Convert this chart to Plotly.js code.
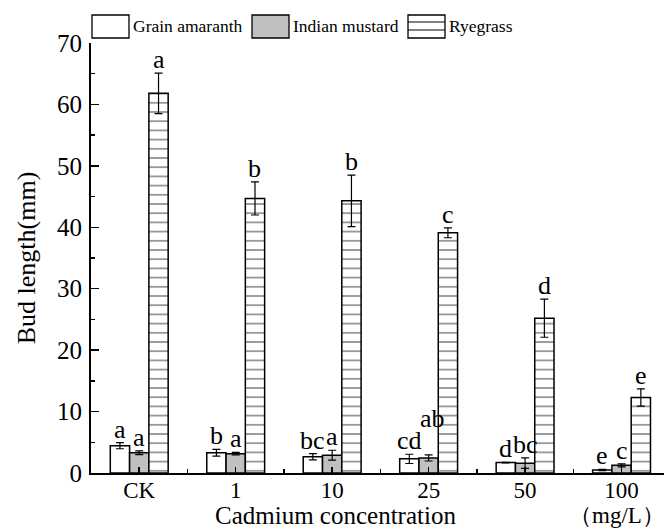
<!DOCTYPE html>
<html>
<head>
<meta charset="utf-8">
<script src="https://cdn.plot.ly/plotly-3.0.1.min.js"></script>
<style>html,body{margin:0;padding:0;background:#fff;}#chart{width:664px;height:528px;}</style>
</head>
<body>
<div id="chart"></div>
<script>
const categories = ["CK", "1", "10", "25", "50", "100"];
const seriesNames = ["Grain amaranth", "Indian mustard", "Ryegrass"];
const grainValues = [4.45, 3.3, 2.65, 2.3, 1.7, 0.5];
const grainErrors = [0.5, 0.55, 0.5, 0.75, 0.05, 0.1];
const grainLetters = ["a", "b", "bc", "cd", "d", "e"];
const mustardValues = [3.3, 3.15, 2.9, 2.45, 1.6, 1.25];
const mustardErrors = [0.3, 0.2, 0.8, 0.5, 0.85, 0.25];
const mustardLetters = ["a", "a", "a", "ab", "bc", "c"];
const ryeValues = [61.8, 44.7, 44.3, 39.1, 25.2, 12.3];
const ryeErrors = [3.3, 2.7, 4.2, 0.8, 3.1, 1.4];
const ryeLetters = ["a", "b", "b", "c", "d", "e"];

const FONT = "Liberation Serif, Times New Roman, serif";
const xIdx = categories.map((c, i) => i);

const values = [grainValues, mustardValues, ryeValues];
const errors = [grainErrors, mustardErrors, ryeErrors];
const letters = [grainLetters, mustardLetters, ryeLetters];
const colors = ["#ffffff", "#c0c0c0", "#ffffff"];
const offsets = [-0.2, 0, 0.2];

const traces = values.map((v, s) => ({
  type: "bar",
  name: seriesNames[s],
  x: xIdx,
  y: v,
  error_y: {type: "data", array: errors[s], visible: true, color: "#000", thickness: 1.2, width: 4},
  marker: Object.assign({
    color: colors[s],
    line: {color: "#000", width: 1.5}
  }, s === 2 ? {pattern: {shape: "-", size: 9.2, solidity: 0.16, fgcolor: "#000", bgcolor: "#fff", fillmode: "overlay"}} : {}),
  showlegend: false,
  hoverinfo: "skip"
}));

const annotations = [];
values.forEach((v, s) => {
  v.forEach((val, i) => {
    let ys = -3, xs = 0;
    if (s === 1 && i === 3) { ys = 20; xs = 4; }
    annotations.push({
      x: i + offsets[s], y: val + errors[s][i], xref: "x", yref: "y",
      text: letters[s][i], showarrow: false, yanchor: "bottom", xanchor: "center",
      yshift: ys, xshift: xs,
      font: {family: FONT, size: 26, color: "#000"}
    });
  });
});

const W = 664, H = 528;
const L = 91, R = 0, T = 43, B = 55;
const pw = W - L - R, ph = H - T - B;
const toPX = x => (x - L) / pw;
const toPY = y => (H - B - y) / ph;

// x-axis title and unit label
annotations.push({
  xref: "paper", yref: "paper", x: toPX(335), y: toPY(515), text: "Cadmium concentration",
  showarrow: false, xanchor: "center", yanchor: "middle",
  font: {family: FONT, size: 25, color: "#000"}
});
annotations.push({
  xref: "paper", yref: "paper", x: toPX(617), y: toPY(515), text: "（mg/L）",
  showarrow: false, xanchor: "center", yanchor: "middle",
  font: {family: FONT, size: 23, color: "#000"}
});

// Custom legend (large boxes)
const shapes = [];
const legendItems = [
  {x0: 92, fill: "#ffffff", hatch: false},
  {x0: 252, fill: "#c0c0c0", hatch: false},
  {x0: 408, fill: "#ffffff", hatch: true}
];
legendItems.forEach((it, k) => {
  shapes.push({type: "rect", xref: "paper", yref: "paper", layer: "above",
    x0: toPX(it.x0), x1: toPX(it.x0 + 37), y0: toPY(15), y1: toPY(38),
    fillcolor: it.fill, line: {color: "#000", width: 1.3}});
  if (it.hatch) {
    [22, 30].forEach(yy => shapes.push({type: "line", xref: "paper", yref: "paper", layer: "above",
      x0: toPX(it.x0), x1: toPX(it.x0 + 37), y0: toPY(yy), y1: toPY(yy), line: {color: "#000", width: 1.2}}));
  }
  annotations.push({xref: "paper", yref: "paper", x: toPX(it.x0 + 39), y: toPY(26),
    text: seriesNames[k], showarrow: false, xanchor: "left", yanchor: "middle",
    font: {family: FONT, size: 17.5, color: "#000"}});
});

const layout = {
  width: W, height: H,
  margin: {l: L, r: R, t: T, b: B, pad: 0},
  paper_bgcolor: "#fff", plot_bgcolor: "#fff",
  font: {family: FONT, size: 25, color: "#000"},
  barmode: "group", bargap: 0.4, bargroupgap: 0,
  showlegend: false,
  xaxis: {
    range: [-0.5, 5.44], tickmode: "array", tickvals: xIdx, ticktext: categories,
    showline: true, linecolor: "#000", linewidth: 2, showgrid: false, zeroline: false,
    ticks: "inside", ticklen: 6, tickwidth: 1.5, tickcolor: "#000",
    minor: {tickmode: "array", tickvals: xIdx.map(i => i + 0.5), ticks: "inside", ticklen: 4, tickwidth: 1.5, tickcolor: "#000"},
    tickfont: {family: FONT, size: 23},
    ticklabelstandoff: -5,
    automargin: false
  },
  yaxis: {
    range: [0, 70], tickmode: "linear", tick0: 0, dtick: 10,
    showline: true, linecolor: "#000", linewidth: 2, showgrid: false, zeroline: false,
    ticks: "inside", ticklen: 8, tickwidth: 1.5, tickcolor: "#000",
    minor: {dtick: 5, ticks: "inside", ticklen: 4, tickwidth: 1.5, tickcolor: "#000"},
    tickfont: {family: FONT, size: 25},
    ticklabelstandoff: 2,
    automargin: false,
    title: {text: "Bud length(mm)", font: {family: FONT, size: 26}, standoff: 14}
  },
  annotations: annotations,
  shapes: shapes
};

Plotly.newPlot("chart", traces, layout, {staticPlot: true, displayModeBar: false});
</script>
</body>
</html>
